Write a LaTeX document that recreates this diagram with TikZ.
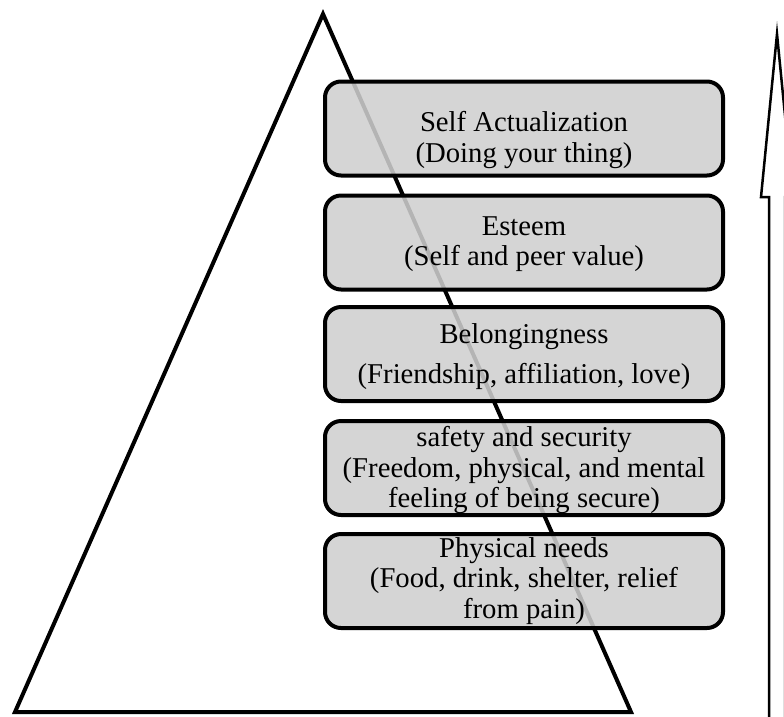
\documentclass[tikz,border=0pt]{standalone}
\usepackage{fontspec}
\setmainfont{Liberation Serif}
\begin{document}
\begin{tikzpicture}[x=1pt,y=-1pt,
  level/.style={draw=black, line width=4pt, rounded corners=16pt,
    fill=black!19, fill opacity=0.87, draw opacity=1,
    minimum width=398pt, minimum height=94pt, inner sep=0pt},
  caption/.style={align=center, inner sep=0pt,
    font=\fontsize{28.7}{30.5}\selectfont},
  outline/.style={line width=4pt, line join=miter},
  upward/.style={line width=2.5pt, line join=miter, miter limit=25}
]
\useasboundingbox (0,0) rectangle (784,716);
\clip (0,0) rectangle (784,716);

% pyramid outline, drawn first so the boxes shade it
\draw[outline] (323,14) -- (631,712) -- (15,712) -- cycle;

% the five levels of needs
\node[level] (self)   at (524,128.5) {};
\node[level] (esteem) at (524,242.5) {};
\node[level] (belong) at (524,354)   {};
\node[level] (safety) at (524,468)   {};
\node[level] (phys)   at (524,581)   {};

\node[caption] at ([yshift=-11.5pt]self.center)
  {Self Actualization\\(Doing your thing)};
\node[caption] at ([yshift=-1.5pt]esteem.center)
  {Esteem\\(Self and peer value)};
\node[caption] at ([yshift=-2.5pt]belong.center)
  {Belongingness\\[9.5pt](Friendship, affiliation, love)};
\node[caption] at ([yshift=-2pt]safety.center)
  {safety and security\\(Freedom, physical, and mental\\feeling of being secure)};
\node[caption] at ([yshift=0pt]phys.center)
  {Physical needs\\(Food, drink, shelter, relief\\from pain)};

% upward block arrow at the right edge
\draw[upward] (769,740) -- (769,197) -- (761,197) -- (777,34)
  -- (793,197) -- (785,197) -- (785,740);
\end{tikzpicture}
\end{document}
